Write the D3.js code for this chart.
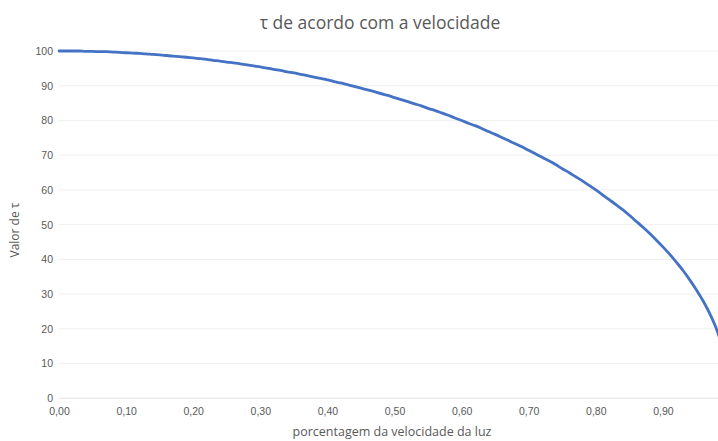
<!DOCTYPE html>
<html>
<head>
<meta charset="utf-8">
<script src="https://cdn.jsdelivr.net/npm/d3@7"></script>
<style>
  html, body { margin: 0; padding: 0; background: #fff; }
  svg { display: block; font-family: "Open Sans", "Liberation Sans", sans-serif; }
</style>
</head>
<body>
<div id="chart"></div>
<script>
// Fraction of the speed of light (categories 0,00 ... 0,99)
const speeds = [
  0.00, 0.01, 0.02, 0.03, 0.04, 0.05, 0.06, 0.07, 0.08, 0.09,
  0.10, 0.11, 0.12, 0.13, 0.14, 0.15, 0.16, 0.17, 0.18, 0.19,
  0.20, 0.21, 0.22, 0.23, 0.24, 0.25, 0.26, 0.27, 0.28, 0.29,
  0.30, 0.31, 0.32, 0.33, 0.34, 0.35, 0.36, 0.37, 0.38, 0.39,
  0.40, 0.41, 0.42, 0.43, 0.44, 0.45, 0.46, 0.47, 0.48, 0.49,
  0.50, 0.51, 0.52, 0.53, 0.54, 0.55, 0.56, 0.57, 0.58, 0.59,
  0.60, 0.61, 0.62, 0.63, 0.64, 0.65, 0.66, 0.67, 0.68, 0.69,
  0.70, 0.71, 0.72, 0.73, 0.74, 0.75, 0.76, 0.77, 0.78, 0.79,
  0.80, 0.81, 0.82, 0.83, 0.84, 0.85, 0.86, 0.87, 0.88, 0.89,
  0.90, 0.91, 0.92, 0.93, 0.94, 0.95, 0.96, 0.97, 0.98, 0.99
];

// Value of tau for each speed
const tauValues = [
  100.0, 100.0, 100.0, 100.0, 99.9, 99.9, 99.8, 99.8, 99.7, 99.6,
  99.5, 99.4, 99.3, 99.2, 99.0, 98.9, 98.7, 98.5, 98.4, 98.2,
  98.0, 97.8, 97.6, 97.3, 97.1, 96.8, 96.6, 96.3, 96.0, 95.7,
  95.4, 95.1, 94.7, 94.4, 94.0, 93.7, 93.3, 92.9, 92.5, 92.1,
  91.7, 91.2, 90.8, 90.3, 89.8, 89.3, 88.8, 88.3, 87.7, 87.2,
  86.6, 86.0, 85.4, 84.8, 84.2, 83.5, 82.9, 82.2, 81.5, 80.7,
  80.0, 79.2, 78.5, 77.7, 76.8, 76.0, 75.1, 74.2, 73.3, 72.4,
  71.4, 70.4, 69.4, 68.4, 67.3, 66.1, 65.0, 63.8, 62.6, 61.3,
  60.0, 58.6, 57.2, 55.8, 54.3, 52.7, 51.0, 49.3, 47.5, 45.6,
  43.6, 41.5, 39.2, 36.8, 34.1, 31.2, 28.0, 24.3, 19.9, 14.1
];

const xTickValues = [0.00, 0.10, 0.20, 0.30, 0.40, 0.50, 0.60, 0.70, 0.80, 0.90];
const xTickLabels = ["0,00", "0,10", "0,20", "0,30", "0,40", "0,50", "0,60", "0,70", "0,80", "0,90"];
const yTickValues = [0, 10, 20, 30, 40, 50, 60, 70, 80, 90, 100];

const W = 718, H = 441;
const plotLeft = 59, plotTop = 51, plotBottom = 398.3;

const svg = d3.select("#chart").append("svg")
  .attr("width", W).attr("height", H);

const x = d3.scaleLinear().domain([0, 1]).range([plotLeft, plotLeft + 671]);
const y = d3.scaleLinear().domain([0, 100]).range([plotBottom, plotTop]);

// horizontal gridlines
svg.append("g").selectAll("line")
  .data(yTickValues)
  .join("line")
  .attr("x1", plotLeft).attr("x2", W)
  .attr("y1", d => y(d)).attr("y2", d => y(d))
  .attr("stroke", d => d === 0 ? "#e4e4e4" : "#efefef")
  .attr("stroke-width", 1);

// y axis labels
const yAxis = d3.axisLeft(y).tickValues(yTickValues).tickSize(0).tickPadding(0)
  .tickFormat(d3.format("d"));
svg.append("g")
  .attr("transform", `translate(${plotLeft - 6},0)`)
  .call(yAxis)
  .call(g => g.select(".domain").remove())
  .call(g => g.selectAll("text")
    .attr("fill", "#595959").attr("font-size", 10.5));

// x axis labels
const xAxis = d3.axisBottom(x).tickValues(xTickValues).tickSize(0).tickPadding(0)
  .tickFormat((d, i) => xTickLabels[i]);
svg.append("g")
  .attr("transform", `translate(0,${plotBottom + 9})`)
  .call(xAxis)
  .call(g => g.select(".domain").remove())
  .call(g => g.selectAll("text")
    .attr("fill", "#595959").attr("font-size", 10.5));

// tau curve
const line = d3.line()
  .x((d, i) => x(speeds[i]))
  .y(d => y(d))
  .curve(d3.curveMonotoneX);
svg.append("path")
  .datum(tauValues)
  .attr("d", line)
  .attr("fill", "none")
  .attr("stroke", "#4472C4")
  .attr("stroke-width", 2.8)
  .attr("stroke-linecap", "round");

// chart title
svg.append("text")
  .attr("x", 380).attr("y", 29)
  .attr("text-anchor", "middle")
  .attr("fill", "#595959")
  .attr("font-size", 17.5)
  .text("τ de acordo com a velocidade");

// axis titles
svg.append("text")
  .attr("x", 392).attr("y", 436)
  .attr("text-anchor", "middle")
  .attr("fill", "#595959")
  .attr("font-size", 12.5)
  .text("porcentagem da velocidade da luz");

svg.append("text")
  .attr("transform", `translate(19,${230}) rotate(-90)`)
  .attr("text-anchor", "middle")
  .attr("fill", "#595959")
  .attr("font-size", 12)
  .text("Valor de τ");
</script>
</body>
</html>
